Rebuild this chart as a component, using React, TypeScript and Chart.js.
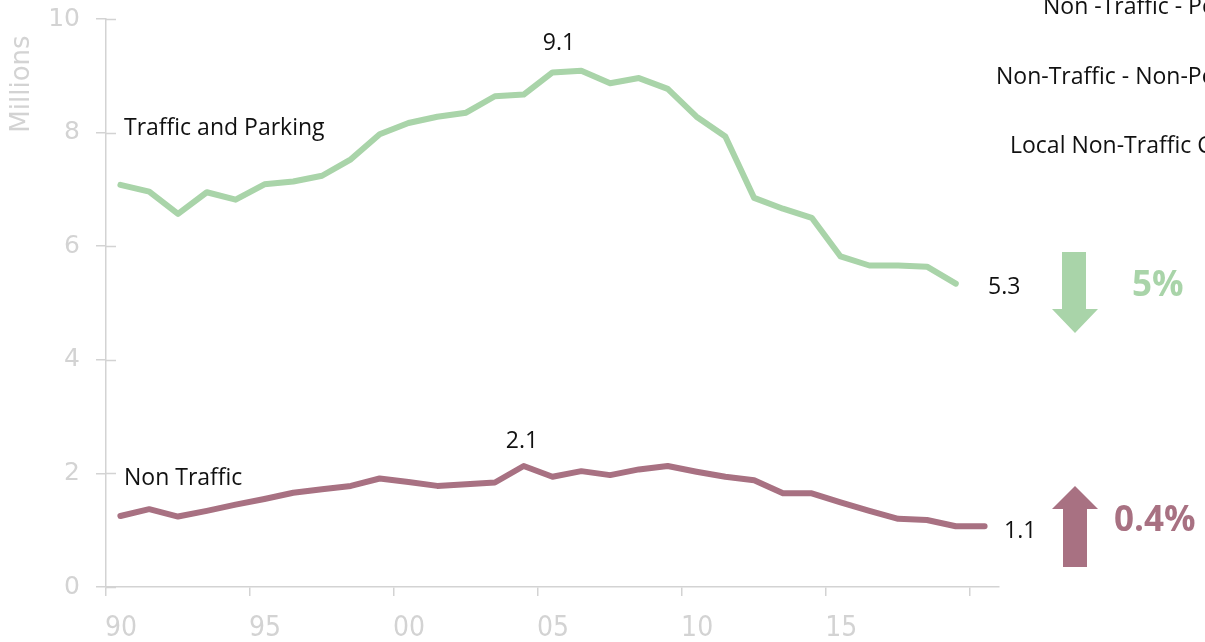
import React, { useEffect, useRef } from "react";
import { Chart, registerables } from "chart.js";

Chart.register(...registerables);

// ---- data ----
const years: number[] = [
  1990, 1991, 1992, 1993, 1994, 1995, 1996, 1997, 1998, 1999,
  2000, 2001, 2002, 2003, 2004, 2005, 2006, 2007, 2008, 2009,
  2010, 2011, 2012, 2013, 2014, 2015, 2016, 2017, 2018, 2019, 2020,
];
const trafficParking: (number | null)[] = [
  7.08, 6.96, 6.57, 6.95, 6.82, 7.09, 7.14, 7.24, 7.53, 7.97,
  8.17, 8.28, 8.35, 8.64, 8.67, 9.06, 9.09, 8.87, 8.96, 8.77,
  8.28, 7.93, 6.85, 6.66, 6.5, 5.82, 5.66, 5.66, 5.64, 5.34, null,
];
const nonTraffic: (number | null)[] = [
  1.25, 1.37, 1.24, 1.34, 1.45, 1.55, 1.66, 1.72, 1.78, 1.91,
  1.85, 1.78, 1.81, 1.84, 2.13, 1.94, 2.04, 1.97, 2.07, 2.13,
  2.03, 1.94, 1.88, 1.65, 1.65, 1.49, 1.34, 1.2, 1.18, 1.07, 1.07,
];
const seriesNames = ["Traffic and Parking", "Non Traffic"];
const peakLabels = ["9.1", "2.1"];
const endLabels = ["5.3", "1.1"];
const changeLabels = ["5%", "0.4%"];
const topRightNotes = [
  "Non -Traffic - Personal",
  "Non-Traffic - Non-Personal",
  "Local Non-Traffic Cases",
];
const yAxisTitle = "Millions";

const GREEN = "#a9d4a9";
const MAUVE = "#a87182";
const GRAY = "#d3d3d3";
const TEXT = "#111111";

const toPoints = (vals: (number | null)[]) =>
  years
    .map((yr, i) => ({ x: yr + 0.5, y: vals[i] }))
    .filter((p) => p.y !== null) as { x: number; y: number }[];

const annotations = {
  id: "annotations",
  afterDraw(chart: any) {
    const { ctx, chartArea, scales } = chart;
    const yScale = scales.y;
    ctx.save();

    // inner half of y tick marks
    ctx.strokeStyle = GRAY;
    ctx.lineWidth = 1.5;
    yScale.ticks.forEach((t: any) => {
      const py = Math.round(yScale.getPixelForValue(t.value)) + 0.5;
      ctx.beginPath();
      ctx.moveTo(chartArea.left, py);
      ctx.lineTo(chartArea.left + 10, py);
      ctx.stroke();
    });

    // y-axis title
    ctx.save();
    ctx.translate(22, 84);
    ctx.rotate(-Math.PI / 2);
    ctx.font = "26px 'DejaVu Sans'";
    ctx.fillStyle = GRAY;
    ctx.textAlign = "center";
    ctx.textBaseline = "middle";
    ctx.fillText(yAxisTitle, 0, 0);
    ctx.restore();

    ctx.font = "23px 'Open Sans'";
    ctx.fillStyle = TEXT;
    ctx.textBaseline = "alphabetic";

    // series names
    ctx.textAlign = "left";
    ctx.fillText(seriesNames[0], 124, 135);
    ctx.fillText(seriesNames[1], 124, 485);

    // peak labels
    ctx.textAlign = "center";
    ctx.fillText(peakLabels[0], 559, 50);
    ctx.fillText(peakLabels[1], 522, 448);

    // end labels
    ctx.textAlign = "left";
    ctx.fillText(endLabels[0], 988, 294);
    ctx.fillText(endLabels[1], 1004, 538);

    // top-right notes (cut by canvas edge)
    ctx.fillText(topRightNotes[0], 1043, 14);
    ctx.fillText(topRightNotes[1], 996, 84);
    ctx.fillText(topRightNotes[2], 1010, 153);

    // arrows
    ctx.fillStyle = GREEN;
    ctx.beginPath();
    ctx.moveTo(1062, 252);
    ctx.lineTo(1086, 252);
    ctx.lineTo(1086, 309);
    ctx.lineTo(1098, 309);
    ctx.lineTo(1075, 333);
    ctx.lineTo(1052, 309);
    ctx.lineTo(1062, 309);
    ctx.closePath();
    ctx.fill();

    ctx.fillStyle = MAUVE;
    ctx.beginPath();
    ctx.moveTo(1075, 486);
    ctx.lineTo(1098, 509);
    ctx.lineTo(1087, 509);
    ctx.lineTo(1087, 567);
    ctx.lineTo(1063, 567);
    ctx.lineTo(1063, 509);
    ctx.lineTo(1052, 509);
    ctx.closePath();
    ctx.fill();

    // change labels
    ctx.font = "bold 35px 'Open Sans'";
    ctx.textAlign = "left";
    ctx.fillStyle = GREEN;
    ctx.fillText(changeLabels[0], 1132, 296);
    ctx.fillStyle = MAUVE;
    ctx.fillText(changeLabels[1], 1114, 531);

    ctx.restore();
  },
};

export default function App() {
  const canvasRef = useRef<HTMLCanvasElement | null>(null);

  useEffect(() => {
    if (!canvasRef.current) return;
    const chart = new Chart(canvasRef.current, {
      type: "line",
      data: {
        datasets: [
          {
            label: seriesNames[0],
            data: toPoints(trafficParking),
            borderColor: GREEN,
            borderWidth: 6,
            pointRadius: 0,
            tension: 0,
            borderJoinStyle: "round",
            borderCapStyle: "round",
          },
          {
            label: seriesNames[1],
            data: toPoints(nonTraffic),
            borderColor: MAUVE,
            borderWidth: 6,
            pointRadius: 0,
            tension: 0,
            borderJoinStyle: "round",
            borderCapStyle: "round",
          },
        ],
      },
      options: {
        responsive: false,
        animation: false,
        layout: { padding: { top: 19, right: 206, left: 0, bottom: 0 } },
        plugins: {
          legend: { display: false },
          tooltip: { enabled: false },
        },
        scales: {
          x: {
            type: "linear",
            min: years[0],
            max: years[years.length - 1] + 1,
            afterFit: (s: any) => {
              s.height = 55;
              s.paddingLeft = 0;
              s.paddingRight = 0;
            },
            border: { display: true, color: GRAY, width: 1.5 },
            grid: {
              drawOnChartArea: false,
              tickLength: 9,
              color: GRAY,
              lineWidth: 1.5,
            },
            ticks: {
              stepSize: 5,
              includeBounds: false,
              autoSkip: false,
              maxRotation: 0,
              labelOffset: 15,
              padding: 16,
              color: GRAY,
              font: { family: "'DejaVu Sans Condensed'", size: 28 },
              callback: (v: any) =>
                v < 2020 ? String(v % 100).padStart(2, "0") : "",
            },
          },
          y: {
            min: 0,
            max: 10,
            afterFit: (s: any) => {
              s.width = 106;
              s.paddingTop = 0;
              s.paddingBottom = 0;
            },
            border: { display: true, color: GRAY, width: 1.5 },
            grid: {
              drawOnChartArea: false,
              tickLength: 10,
              color: GRAY,
              lineWidth: 1.5,
            },
            ticks: {
              stepSize: 2,
              padding: 16,
              color: GRAY,
              font: { family: "'DejaVu Sans'", size: 25 },
            },
          },
        },
      },
      plugins: [annotations],
    });
    return () => chart.destroy();
  }, []);

  return (
    <div style={{ position: "absolute", left: 0, top: 0, width: 1205, height: 642, background: "#fff" }}>
      <canvas ref={canvasRef} width={1205} height={642} />
    </div>
  );
}
